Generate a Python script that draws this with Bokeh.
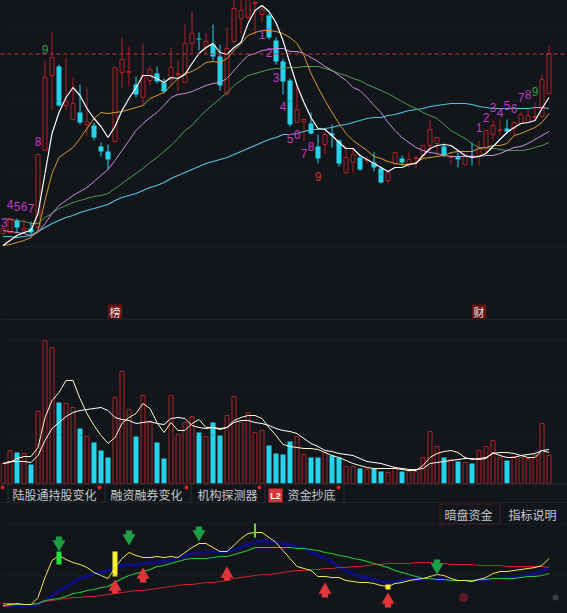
from bokeh.plotting import figure
from bokeh.models import Range1d, Span
from bokeh.layouts import column
from bokeh.embed import file_html
from bokeh.resources import INLINE
from bokeh.core.properties import value

# ---- price pane (price units, no scale printed) ----
opens = [87,88,100,90,92,93,170,245,254,215,201,208,196,195,174,169,179,248,248,236,223,240,247,238,241,246,238,277,282,273,276,264,227,279,302,303,317,306,305,280,259,240,198,199,197,174,176,187,180,148,158,163,160,158,152,140,157,162,157,162,165,175,177,174,163,164,156,165,165,172,186,190,192,192,197,198,203,204,227]
closes = [92,102,93,92,88,166,243,263,215,219,217,198,199,183,169,161,253,261,249,226,245,251,239,229,253,247,277,287,281,279,264,235,272,312,310,324,318,311,283,259,239,196,211,201,187,162,186,185,157,163,166,151,161,153,138,148,168,158,161,163,175,191,183,165,164,161,165,163,173,190,195,191,189,198,206,205,204,241,267]
highs = [94,102,102,102,99,166,260,288,256,263,243,236,233,198,178,176,253,283,274,244,277,255,254,242,273,260,296,309,288,287,296,276,293,325,328,330,326,315,307,283,262,242,237,202,208,186,189,196,181,173,172,166,164,168,154,148,168,165,168,165,175,200,183,177,168,168,167,178,180,190,200,201,201,198,209,212,218,246,275]
lows = [85,87,87,88,83,92,170,210,214,210,201,196,185,180,164,151,179,233,234,223,216,235,237,227,235,229,238,268,270,265,260,230,225,277,287,301,285,298,281,256,226,194,198,179,186,157,166,173,154,146,148,150,157,149,137,137,155,155,153,152,163,168,165,163,156,153,155,155,155,167,180,185,187,184,197,197,200,203,227]
ma5 = [75,80,85,88,90,107,147,187,208,223,233,225,212,202,194,183,194,210,222,233,245,245,242,238,243,242,246,257,267,273,277,268,266,273,278,297,310,315,309,298,280,257,235,218,203,192,191,185,178,172,172,165,161,157,153,149,153,153,156,157,165,172,175,176,175,170,165,163,164,167,174,181,188,193,197,198,200,212,223]
ma10 = [75,76,78,80,83,90,120,147,163,168,173,182,192,202,208,207,208,209,211,213,215,222,225,228,235,242,247,249,253,258,259,258,262,270,277,285,288,290,290,289,287,283,277,265,247,233,220,208,197,187,180,175,170,164,162,159,157,156,156,158,162,163,164,165,168,169,169,169,172,173,175,175,177,185,187,190,193,198,207]
ma20 = [90,89,88,87,85,88,97,107,115,120,125,129,133,139,145,151,160,170,180,190,197,203,208,215,223,226,227,229,232,235,237,238,242,250,258,265,267,270,271,272,272,269,269,267,263,259,254,250,245,240,233,230,223,215,208,198,190,183,178,173,170,168,167,165,164,164,164,164,164,165,165,167,170,173,174,177,181,185,189]
ma30 = [102,101,100,99,97,97,103,107,112,115,118,120,122,124,125,127,132,137,142,147,152,158,163,169,175,182,190,195,203,210,216,222,228,235,240,245,247,249,251,252,252,253,253,254,254,254,252,250,247,245,242,240,236,233,230,227,223,219,215,212,208,205,202,196,190,186,182,177,173,173,172,171,170,170,170,171,173,175,178]
ma60 = [84,84,83,84,85,89,93,97,100,103,105,108,110,112,114,116,120,123,125,127,130,133,135,138,142,145,148,151,154,157,159,161,163,166,169,172,175,178,181,183,186,186,187,189,191,191,192,193,195,196,198,200,202,203,203,205,206,208,210,211,212,214,215,216,217,217,217,216,214,213,212,212,212,212,212,212,213,213,212]
ref_price = 266.5
price_grid = [291.5,219.5,146.5,73.5]
seq_i = [0.2,1,2,3,4,5,6,37,38,39,40,41,42,43,44,45,68,69,70,71,72,73,74,75,76]
seq_v = [98,116,114,114,112,179,271,286,268,243,214,182,186,167,174,144,193,203,213,208,215,212,223,226,229]
seq_t = ["3","4","5","6","7","8","9","1","2","3","4","5","6","7","8","9","1","2","3","4","5","6","7","8","9"]
seq_c = ["#c23ac2"]*6+["#2f9e4f"]+["#c23ac2"]*8+["#d8352f"]+["#c23ac2"]*8+["#2f9e4f"]
tag_i = [16,68]
tag_v = [9,9]
tag_t = ["榜","财"]

# ---- volume pane ----
volume = [20,33,31,30,19,72,143,136,81,80,76,55,47,41,33,26,86,112,74,47,88,61,41,25,88,49,61,67,51,47,61,48,68,87,61,71,51,53,38,30,29,42,47,29,26,26,31,28,26,17,17,15,14,15,12,11,16,12,12,12,26,52,37,26,24,22,21,20,33,37,43,26,23,27,26,25,28,60,28]
vol_ma5 = [20,21,25,27,27,36,66,83,91,103,103,85,70,58,48,40,46,60,66,70,80,75,61,51,61,53,53,60,64,56,56,54,56,63,66,68,68,65,56,48,39,37,36,35,35,34,31,28,26,23,20,18,16,15,15,15,15,14,13,13,18,26,30,32,33,31,26,24,25,26,30,31,31,30,28,26,26,33,31]
vol_ma10 = [20,22,22,22,21,28,43,55,61,67,71,73,74,75,76,73,66,64,63,60,61,62,60,59,65,66,65,58,56,55,56,55,56,61,63,63,61,60,58,55,53,52,50,45,40,37,33,32,30,29,28,25,22,21,20,18,16,15,14,14,15,20,21,22,23,24,25,25,24,25,31,28,26,26,28,29,30,33,34]
vol_grid = [143.5,96.5,48.5]
tab_labels = ["陆股通持股变化","融资融券变化","机构探测器","资金抄底"]
tab_left = [12,110,197,287]
tab_dots = [2,99,186,259,338]
tab_dividers = [7.5,104.5,190.5,264.5,343.5]

# ---- indicator pane ----
yellow = [8,9,10,9,9,16,36,53,58,54,51,49,46,41,38,35,46,55,61,58,56,56,57,56,57,56,61,66,70,70,66,62,62,68,75,80,81,81,76,71,63,55,47,45,43,37,37,36,36,33,32,31,31,30,28,27,30,31,33,34,35,37,39,38,35,33,33,32,34,36,40,42,42,43,44,45,46,48,55]
blue = [7,7,8,8,8,9,13,18,23,26,31,35,37,40,41,43,46,48,49,48,50,51,51,52,53,55,58,60,61,61,61,62,62,64,66,69,71,73,72,71,70,69,66,65,61,58,55,51,47,43,40,37,36,34,32,31,32,33,34,34,34,35,34,34,33,33,33,33,34,34,35,35,36,36,37,39,40,42,46]
green = [10,10,9,9,9,10,13,14,15,17,20,21,23,24,26,27,31,35,38,40,42,44,47,48,50,52,54,55,55,55,56,57,57,59,61,63,66,66,66,66,66,66,65,65,64,63,61,60,58,57,55,54,52,50,48,46,43,41,39,37,35,35,34,34,33,33,33,33,34,34,35,35,35,35,36,37,37,38,40]
red = [7,8,9,9,9,10,12,13,14,15,16,16,17,17,18,19,20,21,22,23,23,24,25,26,27,28,29,29,30,31,31,32,33,35,36,37,38,39,39,40,41,42,43,43,44,44,45,45,46,46,47,47,48,49,49,50,50,50,50,51,51,51,50,50,49,49,49,49,48,48,48,48,47,47,47,47,47,47,46]
ind_grid = [89.5,38.5]
sell_i = [8,18,28,62]
sell_top = [77,83,87,54]
sell_tip = [62,68,72,39]
buy_i = [16,20,32,46,55]
buy_tip = [34,46,47,31,21]
buy_base = [20,31,33,16,6]
sig_i = [8,16,36,55]
sig_top = [62,62,90,29]
sig_bot = [49,37,76,24]
sig_w = [0.7143,0.7143,0.2857,0.7143]
sig_c = ["#22e040","#f5ee30","#6bd04a","#f5ee30"]
buttons = ["暗盘资金","指标说明"]
button_left = [444,508]

BG = "#12161b"; RED = "#b01f24"; CYAN = "#27d3ea"; TXT = "#c6c8ca"; LINE = "#2b2f34"; DOT = "#33363a"
xs = list(range(len(closes)))
X0, X1 = -2.5/7, (567-2.5)/7
HOLLOW_W, SOLID_W = 4/7, 5/7

def pane(h, y0, y1):
    p = figure(width=567, height=h, x_range=Range1d(X0, X1), y_range=Range1d(y0, y1),
               x_axis_type=None, y_axis_type=None, toolbar_location=None,
               output_backend="svg", min_border=0, outline_line_color=None,
               background_fill_color=BG, border_fill_color=BG, styles={"background-color": BG})
    p.grid.visible = False
    p.extra_x_ranges = {"px": Range1d(0, 567)}
    return p

def gridlines(p, levels):
    for g in levels:
        p.add_layout(Span(location=g, dimension="width", line_color=DOT, line_dash="1 3", line_width=1))

# price
p1 = pane(320, 0, 320)
gridlines(p1, price_grid)
p1.add_layout(Span(location=ref_price, dimension="width", line_color="#c03038", line_dash="4 3", line_width=1))
up = [c >= o for o, c in zip(opens, closes)]
ux = [i for i in xs if up[i]]; dx = [i for i in xs if not up[i]]
p1.segment([xs[i] for i in ux], [lows[i] for i in ux], [xs[i] for i in ux], [highs[i] for i in ux], line_color=RED, line_width=1)
p1.segment(dx, [lows[i] for i in dx], dx, [highs[i] for i in dx], line_color=CYAN, line_width=1)
p1.vbar(ux, HOLLOW_W, [opens[i] for i in ux], [closes[i] for i in ux], fill_color=BG, line_color=RED, line_width=1)
p1.vbar(dx, SOLID_W, [closes[i] for i in dx], [opens[i] for i in dx], fill_color=CYAN, line_color=None)
for s, c, w in [(ma60,"#55c3dc",1.2),(ma30,"#4f9a55",1),(ma20,"#c78fdc",1),(ma10,"#d39a3c",1),(ma5,"#ffffff",1.2)]:
    p1.line(xs, s, line_color=c, line_width=w)
p1.text(seq_i, seq_v, text=seq_t, text_color=seq_c, text_font=value("Liberation Sans"), text_font_size="12px", text_align="center", text_baseline="middle")
p1.rect(tag_i, tag_v, width=14, height=14, width_units="screen", height_units="screen", fill_color="#6a1214", line_color=None)
p1.text(tag_i, tag_v, text=tag_t, text_color="#e6e6e6", text_font=value("Noto Sans CJK SC"), text_font_size="11px", text_align="center", text_baseline="middle")
p1.add_layout(Span(location=0.5, dimension="width", line_color=LINE, line_width=1))

# volume + tab strip
p2 = pane(183, -20, 163)
gridlines(p2, vol_grid)
p2.vbar(ux, HOLLOW_W, 0, [volume[i] for i in ux], fill_color=BG, line_color=RED, line_width=1)
p2.vbar(dx, SOLID_W, 0, [volume[i] for i in dx], fill_color=CYAN, line_color=None)
p2.line(xs, vol_ma5, line_color="#fff7c8", line_width=1)
p2.line(xs, vol_ma10, line_color="#ffffff", line_width=1)
p2.quad(left=0, right=567, bottom=-20, top=-1, x_range_name="px", fill_color=BG, line_color=None)
p2.add_layout(Span(location=-0.5, dimension="width", line_color=LINE, line_width=1))
p2.add_layout(Span(location=-19.5, dimension="width", line_color=LINE, line_width=1))
p2.segment(tab_dividers, [-1]*5, tab_dividers, [-20]*5, x_range_name="px", line_color=LINE, line_width=1)
p2.scatter(tab_dots, [-4]*5, x_range_name="px", size=4, marker="circle", fill_color="#e01e2a", line_color=None)
p2.text(tab_left, [-11]*4, text=tab_labels, x_range_name="px", text_color=TXT, text_font=value("Noto Sans CJK SC"), text_font_size="12px", text_align="left", text_baseline="middle")
p2.quad(left=268, right=282, bottom=-19, top=-5, x_range_name="px", fill_color="#d8343a", line_color=None)
p2.text([275], [-12], text=["L2"], x_range_name="px", text_color="#ffffff", text_font=value("Liberation Sans"), text_font_style="bold", text_font_size="9px", text_align="center", text_baseline="middle")

# indicator
p3 = pane(110, 0, 110)
gridlines(p3, ind_grid)
p3.line(xs, blue, line_color="#0d0d80", line_width=3)
p3.line(xs, red, line_color="#c8242a", line_width=1.2)
p3.line(xs, green, line_color="#2fc43a", line_width=1.2)
p3.line(xs, yellow, line_color="#efe85a", line_width=1)
p3.vbar(sig_i, sig_w, sig_bot, sig_top, fill_color=sig_c, line_color=None)
p3.vbar(sell_i, 0.9, [t+7 for t in sell_tip], sell_top, fill_color="#1f9e48", line_color=None)
p3.scatter(sell_i, [t+7.5 for t in sell_tip], size=13, marker="inverted_triangle", fill_color="#1f9e48", line_color=None)
p3.vbar(buy_i, 0.9, buy_base, [t-7 for t in buy_tip], fill_color="#e2363a", line_color=None)
p3.scatter(buy_i, [t-7.5 for t in buy_tip], size=13, marker="triangle", fill_color="#e2363a", line_color=None)
p3.quad(left=439.5, right=499.5, bottom=89.5, top=109.5, x_range_name="px", fill_color=BG, line_color="#4a1a1e", line_width=1)
p3.text(button_left, [99, 99], text=buttons, x_range_name="px", text_color=TXT, text_font=value("Noto Sans CJK SC"), text_font_size="12px", text_align="left", text_baseline="middle")
p3.scatter([463], [16], x_range_name="px", size=9, marker="circle", fill_color="#a8242c", fill_alpha=0.5, line_color=None)
p3.scatter([555], [16], x_range_name="px", size=6, marker="circle", fill_color="#666a6e", fill_alpha=0.5, line_color=None)

page = column(p1, p2, p3, spacing=0, styles={"background-color": BG})
open("out.html", "w").write(file_html(page, INLINE))
